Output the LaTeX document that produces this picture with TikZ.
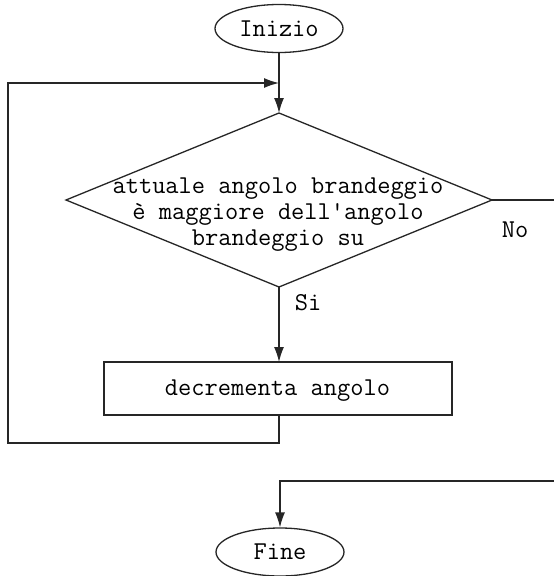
\documentclass[tikz,border=0pt]{standalone}
\usepackage{fontspec}
\usetikzlibrary{shapes.geometric,arrows.meta}
\begin{document}
\begin{tikzpicture}[x=1pt,y=-1pt,
  line/.style={line width=1.3pt,draw=black!85},
  arr/.style={line,-{Latex[length=15pt,width=10pt]}},
  txt/.style={font=\ttfamily\fontsize{25.7}{26}\selectfont,inner sep=0pt},
  term/.style={ellipse,line,minimum width=128pt,minimum height=48pt,inner sep=0pt,font=\ttfamily\fontsize{25.7}{26}\selectfont},
  decision/.style={diamond,line,minimum width=426pt,minimum height=174pt,inner sep=0pt,outer sep=0pt},
  procbox/.style={rectangle,line,minimum width=348pt,minimum height=53pt,inner sep=0pt,outer sep=0pt}]
\useasboundingbox (0,0) rectangle (554,576);
\fill[white] (0,0) rectangle (554,576);
\node[term] (start) at (279,28.5) {Inizio};
\node[decision] (dec) at (279,200) {};
\node[txt,align=center] (dectext) at (278,215) {attuale angolo brandeggio\\è maggiore dell'angolo\\brandeggio su};
\node[procbox] (proc) at (278,388.5) {};
\node[txt] (proctext) at (277.5,395) [anchor=base] {decrementa angolo};
\node[term] (fine) at (280,552) {Fine};
\node[txt,anchor=base] (no) at (515,237) {No};
\node[txt,anchor=base] (si) at (308,310) {Si};
\coordinate (join) at (279,83);
\coordinate (loopA) at (279,443);
\coordinate (loopB) at (8,443);
\coordinate (loopC) at (8,83);
\coordinate (noend) at (554,200);
\coordinate (finein) at (554,481);
\coordinate (fineturn) at (280,481);
\draw[arr] (start.south) -- (dec.north);
\draw[arr] (dec.south) -- (proc.north -| dec.south);
\draw[arr] (proc.south -| loopA) -- (loopA) -- (loopB) -- (loopC) -- (join);
\draw[line] (dec.east) -- (noend);
\draw[arr] (finein) -- (fineturn) -- (fine.north);
\end{tikzpicture}
\end{document}
